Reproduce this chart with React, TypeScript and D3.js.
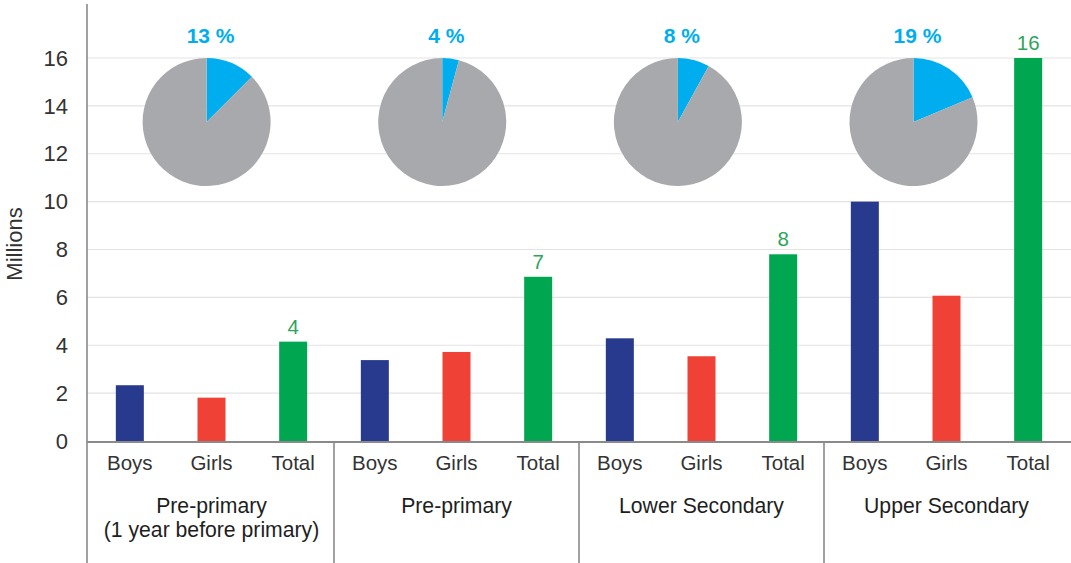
import React from "react";
import * as d3 from "d3";

const groups = ["Pre-primary\n(1 year before primary)", "Pre-primary", "Lower Secondary", "Upper Secondary"];
const genders = ["Boys", "Girls", "Total"];
const boys = [2.33, 3.38, 4.29, 10.0];
const girls = [1.81, 3.72, 3.54, 6.07];
const totals = [4.15, 6.86, 7.8, 16.0];
const totalLabels = ["4", "7", "8", "16"];
const pieShares = [12.5, 4.2, 8.0, 18.7];
const pieLabels = ["13 %", "4 %", "8 %", "19 %"];
const yTicks = [0, 2, 4, 6, 8, 10, 12, 14, 16];

const W = 1071;
const H = 563;
const FONT = "'Liberation Sans', Arial, sans-serif";
const colors: Record<string, string> = { Boys: "#283a8e", Girls: "#ef4136", Total: "#00a650" };

export default function App() {
  const axisX = 87;
  const y = d3.scaleLinear().domain([0, 16]).range([441, 58]);
  const cats = groups.flatMap((g, gi) => genders.map((s) => `${gi}|${s}`));
  const x = d3.scaleBand().domain(cats).range([89, 1069]).paddingInner(0.657).paddingOuter(0.3285);
  const step = x.step();
  const valuesBy: Record<string, number[]> = { Boys: boys, Girls: girls, Total: totals };
  const pieX = d3.scalePoint().domain(groups).range([206.6, 913.5]);
  const pieGen = d3.pie<number>().sort(null).value((d) => d);
  const arc = d3.arc<d3.PieArcDatum<number>>().innerRadius(0).outerRadius(64);
  const pieColors = ["#00aeef", "#a7a9ac"];
  const baseY = y(0);

  return (
    <svg width={W} height={H} style={{ position: "absolute", left: 0, top: 0, background: "#fff" }} fontFamily={FONT}>
      {/* gridlines */}
      {yTicks.filter((t) => t > 0).map((t) => (
        <line key={t} x1={axisX} x2={W} y1={y(t)} y2={y(t)} stroke="#e3e3e3" strokeWidth={1.2} />
      ))}
      {/* tick labels */}
      {yTicks.map((t) => (
        <text key={t} x={68} y={y(t)} dy="0.35em" textAnchor="end" fontSize={22} fill="#333">
          {t}
        </text>
      ))}
      <text transform={`translate(22,244) rotate(-90)`} textAnchor="middle" fontSize={22} fill="#333">
        Millions
      </text>
      {/* pies */}
      {groups.map((g, gi) => {
        const cx = pieX(g) as number;
        const arcs = pieGen([pieShares[gi], 100 - pieShares[gi]]);
        return (
          <g key={g}>
            <g transform={`translate(${cx},122)`}>
              {arcs.map((a, i) => (
                <path key={i} d={arc(a) as string} fill={pieColors[i]} />
              ))}
            </g>
            <text x={cx + 4} y={42.5} textAnchor="middle" fontSize={21} fontWeight="bold" fill="#00aeef">
              {pieLabels[gi]}
            </text>
          </g>
        );
      })}
      {/* bars */}
      {groups.map((g, gi) =>
        genders.map((s) => {
          const key = `${gi}|${s}`;
          const v = valuesBy[s][gi];
          return (
            <rect key={key} x={x(key)} y={y(v)} width={x.bandwidth()} height={baseY - y(v)} fill={colors[s]} />
          );
        })
      )}
      {/* total labels */}
      {groups.map((g, gi) => {
        const key = `${gi}|Total`;
        return (
          <text key={key} x={(x(key) as number) + x.bandwidth() / 2} y={y(totals[gi]) - 8} textAnchor="middle" fontSize={20.5} fill="#2ea55a">
            {totalLabels[gi]}
          </text>
        );
      })}
      {/* axes */}
      <line x1={axisX} x2={axisX} y1={4} y2={H} stroke="#8a8a8a" strokeWidth={1.6} />
      <line x1={axisX} x2={W} y1={baseY + 1} y2={baseY + 1} stroke="#8a8a8a" strokeWidth={2} />
      {groups.slice(1).map((g, gi) => {
        const sx = (x(`${gi + 1}|Boys`) as number) - (step - x.bandwidth()) / 2;
        return <line key={g} x1={sx} x2={sx} y1={baseY + 1} y2={H} stroke="#8a8a8a" strokeWidth={1.6} />;
      })}
      {/* category labels */}
      {cats.map((c) => (
        <text key={c} x={(x(c) as number) + x.bandwidth() / 2} y={469.5} textAnchor="middle" fontSize={20.5} fill="#333">
          {c.split("|")[1]}
        </text>
      ))}
      {/* group labels */}
      {groups.map((g, gi) => {
        const gx = (x(`${gi}|Girls`) as number) + x.bandwidth() / 2;
        return (
          <text key={g} x={gx} y={513} textAnchor="middle" fontSize={21.2} fill="#1e1e1e">
            {g.split("\n").map((line, li) => (
              <tspan key={li} x={gx} dy={li === 0 ? 0 : 23.5}>
                {line}
              </tspan>
            ))}
          </text>
        );
      })}
    </svg>
  );
}
